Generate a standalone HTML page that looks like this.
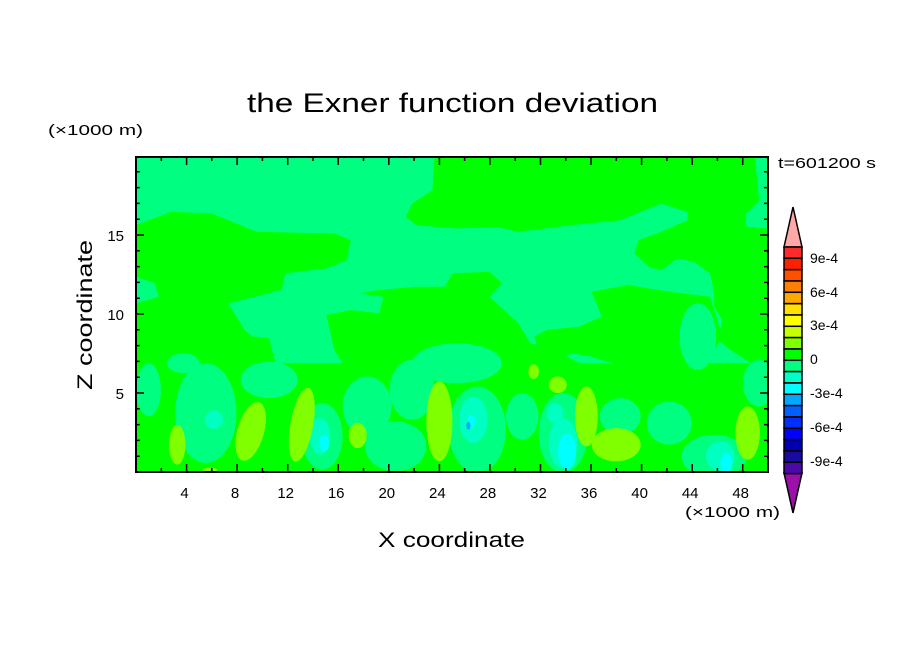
<!DOCTYPE html>
<html><head><meta charset="utf-8"><style>html,body{margin:0;padding:0;background:#fff}svg{display:block}</style></head>
<body>
<svg width="904" height="654" viewBox="0 0 904 654" xmlns="http://www.w3.org/2000/svg" font-family="Liberation Sans, sans-serif">
<defs><clipPath id="c"><rect x="136" y="157" width="632" height="315"/></clipPath></defs>
<g clip-path="url(#c)">
<rect x="136" y="157" width="632" height="315" fill="#00ff80"/>
<g transform="translate(136,157) scale(0.4083,0.3326) translate(-14,-20)">
<g fill="#00ff00">
<polygon points="745,20 1530,20 1540,150 1505,195 1510,230 1562,235 1562,640 1520,640 1470,600 1440,570 1450,510 1430,470 1430,430 1420,370 1380,335 1340,325 1300,360 1270,350 1235,310 1245,270 1300,245 1365,210 1365,185 1300,160 1250,185 1200,210 1080,225 950,245 900,230 800,235 700,225 675,200 690,160 740,120"/>
<polygon points="1130,425 1220,405 1320,425 1420,440 1440,520 1450,560 1420,620 1410,700 1330,720 1280,690 1250,650 1180,640 1130,620 1080,610 1040,640 1000,600 990,560 1020,540 1100,530 1155,500"/>
<polygon points="480,495 540,480 610,490 620,440 560,430 610,420 700,410 770,410 790,370 880,365 910,400 880,440 950,520 980,580 1040,600 1100,640 1140,700 900,720 700,700 640,690 600,640 530,660 500,600"/>
<polygon points="14,225 100,185 200,190 310,245 500,250 540,270 530,330 480,355 380,370 370,420 240,460 280,540 300,560 340,565 360,660 14,660 14,460 70,440 60,400 14,380"/>
<rect x="14" y="640" width="1548" height="330"/>
</g>
<g fill="#00ff80">
<ellipse cx="45" cy="720" rx="30" ry="80"/>
<ellipse cx="185" cy="790" rx="75" ry="150"/>
<ellipse cx="340" cy="690" rx="70" ry="55"/>
<ellipse cx="470" cy="860" rx="50" ry="100"/>
<ellipse cx="580" cy="770" rx="60" ry="90"/>
<ellipse cx="650" cy="890" rx="75" ry="75"/>
<ellipse cx="690" cy="720" rx="55" ry="90"/>
<ellipse cx="850" cy="840" rx="70" ry="130"/>
<ellipse cx="800" cy="640" rx="110" ry="60"/>
<ellipse cx="1060" cy="850" rx="60" ry="120"/>
<ellipse cx="1200" cy="800" rx="50" ry="55"/>
<ellipse cx="1320" cy="820" rx="55" ry="65"/>
<ellipse cx="1430" cy="920" rx="80" ry="65"/>
<ellipse cx="1540" cy="700" rx="40" ry="70"/>
<ellipse cx="1390" cy="560" rx="45" ry="100"/>
<ellipse cx="960" cy="800" rx="40" ry="70"/>
<ellipse cx="130" cy="640" rx="40" ry="30"/>
</g>
<g fill="#00ffc0">
<ellipse cx="205" cy="810" rx="22" ry="28"/>
<ellipse cx="465" cy="860" rx="25" ry="55"/>
<ellipse cx="840" cy="810" rx="35" ry="70"/>
<ellipse cx="1060" cy="880" rx="35" ry="75"/>
<ellipse cx="1445" cy="920" rx="35" ry="45"/>
<ellipse cx="1040" cy="790" rx="20" ry="30"/>
</g>
<g fill="#00ffff">
<ellipse cx="475" cy="880" rx="12" ry="25"/>
<ellipse cx="1070" cy="905" rx="22" ry="55"/>
<ellipse cx="1460" cy="940" rx="15" ry="30"/>
<ellipse cx="835" cy="815" rx="10" ry="20"/>
</g>
<ellipse cx="828" cy="828" rx="5" ry="12" fill="#00a8ff"/>
<g fill="#80ff00">
<ellipse cx="115" cy="885" rx="20" ry="60"/>
<ellipse cx="295" cy="845" rx="33" ry="90" transform="rotate(12 295 845)"/>
<ellipse cx="420" cy="825" rx="28" ry="112" transform="rotate(8 420 825)"/>
<ellipse cx="557" cy="857" rx="22" ry="38"/>
<ellipse cx="757" cy="815" rx="32" ry="120"/>
<ellipse cx="988" cy="665" rx="13" ry="22"/>
<ellipse cx="1047" cy="705" rx="22" ry="25"/>
<ellipse cx="1117" cy="800" rx="28" ry="90"/>
<ellipse cx="1190" cy="885" rx="60" ry="50"/>
<ellipse cx="1512" cy="850" rx="30" ry="80"/>
<ellipse cx="195" cy="962" rx="18" ry="8"/>
</g>
</g>
</g>
<g stroke="#000" fill="none">
<rect x="136" y="157" width="632" height="315" stroke-width="2"/>
<g stroke-width="1.5">
<path d="M161.3 472v-4M186.6 472v-8M211.8 472v-4M237.1 472v-8M262.4 472v-4M287.7 472v-8M313 472v-4M338.2 472v-8M363.5 472v-4M388.8 472v-8M414.1 472v-4M439.4 472v-8M464.6 472v-4M489.9 472v-8M515.2 472v-4M540.5 472v-8M565.8 472v-4M591 472v-8M616.3 472v-4M641.6 472v-8M666.9 472v-4M692.2 472v-8M717.4 472v-4M742.7 472v-8"/>
<path d="M161.3 157v4M186.6 157v8M211.8 157v4M237.1 157v8M262.4 157v4M287.7 157v8M313 157v4M338.2 157v8M363.5 157v4M388.8 157v8M414.1 157v4M439.4 157v8M464.6 157v4M489.9 157v8M515.2 157v4M540.5 157v8M565.8 157v4M591 157v8M616.3 157v4M641.6 157v8M666.9 157v4M692.2 157v8M717.4 157v4M742.7 157v8"/>
<path d="M136 456.2h4M136 440.4h4M136 424.6h4M136 408.8h4M136 393h8M136 377.2h4M136 361.4h4M136 345.6h4M136 329.8h4M136 314h8M136 298.2h4M136 282.4h4M136 266.6h4M136 250.8h4M136 235h8M136 219.2h4M136 203.4h4M136 187.6h4M136 171.8h4"/>
<path d="M768 456.2h-4M768 440.4h-4M768 424.6h-4M768 408.8h-4M768 393h-8M768 377.2h-4M768 361.4h-4M768 345.6h-4M768 329.8h-4M768 314h-8M768 298.2h-4M768 282.4h-4M768 266.6h-4M768 250.8h-4M768 235h-8M768 219.2h-4M768 203.4h-4M768 187.6h-4M768 171.8h-4"/>
</g>
</g>
<g stroke="#000" stroke-width="1.5">
<polygon points="793,207 802,247 784,247" fill="#ffa8a8"/>
<polygon points="793,513 802,473 784,473" fill="#9a10a8"/>
<rect x="784" y="247.0" width="18" height="11.33" fill="#ff2a2a"/>
<rect x="784" y="258.3" width="18" height="11.33" fill="#ff2000"/>
<rect x="784" y="269.7" width="18" height="11.33" fill="#ff5000"/>
<rect x="784" y="281.0" width="18" height="11.33" fill="#ff8000"/>
<rect x="784" y="292.3" width="18" height="11.33" fill="#ffa800"/>
<rect x="784" y="303.7" width="18" height="11.33" fill="#ffe000"/>
<rect x="784" y="315.0" width="18" height="11.33" fill="#ffff00"/>
<rect x="784" y="326.3" width="18" height="11.33" fill="#c8ff00"/>
<rect x="784" y="337.6" width="18" height="11.33" fill="#80ff00"/>
<rect x="784" y="349.0" width="18" height="11.33" fill="#00ff00"/>
<rect x="784" y="360.3" width="18" height="11.33" fill="#00ff80"/>
<rect x="784" y="371.6" width="18" height="11.33" fill="#00ffc8"/>
<rect x="784" y="383.0" width="18" height="11.33" fill="#00ffff"/>
<rect x="784" y="394.3" width="18" height="11.33" fill="#00a8ff"/>
<rect x="784" y="405.6" width="18" height="11.33" fill="#0060ff"/>
<rect x="784" y="417.0" width="18" height="11.33" fill="#0030ff"/>
<rect x="784" y="428.3" width="18" height="11.33" fill="#0000ff"/>
<rect x="784" y="439.6" width="18" height="11.33" fill="#0000b0"/>
<rect x="784" y="451.0" width="18" height="11.33" fill="#1a0aa0"/>
<rect x="784" y="462.3" width="18" height="11.33" fill="#4a0aa8"/>
</g>
<g fill="#000" font-size="14">
<text x="810" y="263">9e-4</text>
<text x="810" y="297">6e-4</text>
<text x="810" y="330">3e-4</text>
<text x="810" y="364">0</text>
<text x="810" y="398">-3e-4</text>
<text x="810" y="432">-6e-4</text>
<text x="810" y="466">-9e-4</text>
<text x="778" y="168" font-size="15" textLength="98" lengthAdjust="spacingAndGlyphs">t=601200 s</text>
<text x="48" y="135" font-size="15" textLength="95" lengthAdjust="spacingAndGlyphs">(×1000 m)</text>
<text x="685" y="517" font-size="15" textLength="95" lengthAdjust="spacingAndGlyphs">(×1000 m)</text>
<g text-anchor="middle" font-size="15">
<text x="184.6" y="498">4</text><text x="235.1" y="498">8</text><text x="285.7" y="498">12</text><text x="336.2" y="498">16</text><text x="386.8" y="498">20</text><text x="437.4" y="498">24</text><text x="487.9" y="498">28</text><text x="538.5" y="498">32</text><text x="589" y="498">36</text><text x="639.6" y="498">40</text><text x="690.2" y="498">44</text><text x="740.7" y="498">48</text>
</g>
<g text-anchor="end" font-size="15">
<text x="124" y="399">5</text><text x="124" y="320">10</text><text x="124" y="241">15</text>
</g>
<text x="247" y="112" font-size="27" textLength="411" lengthAdjust="spacingAndGlyphs">the Exner function deviation</text>
<text x="378" y="547" font-size="21" textLength="147" lengthAdjust="spacingAndGlyphs">X coordinate</text>
<text transform="translate(92,390) rotate(-90)" font-size="21" textLength="150" lengthAdjust="spacingAndGlyphs">Z coordinate</text>
</g>
</svg>
</body></html>
